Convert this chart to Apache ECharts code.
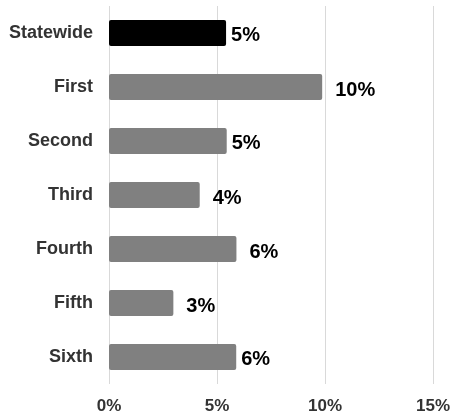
<!DOCTYPE html>
<html>
<head>
<meta charset="utf-8">
<script src="https://cdn.jsdelivr.net/npm/echarts@6/dist/echarts.min.js"></script>
<style>
  html, body { margin: 0; padding: 0; background: #fff; }
  #chart { width: 453px; height: 417px; }
</style>
</head>
<body>
<div id="chart"></div>
<script>
// regions, top to bottom
const regions = ["Statewide", "First", "Second", "Third", "Fourth", "Fifth", "Sixth"];
// share in percent
const shares = [5.42, 9.87, 5.45, 4.2, 5.9, 2.98, 5.89];
const xTicks = [0, 5, 10, 15];

// labels that sit a bit further out / lower in the original
const looseLabels = [1, 3, 4, 5];

const chart = echarts.init(document.getElementById("chart"));
chart.setOption({
  animation: false,
  grid: { left: 109, right: 20, top: 6, bottom: 33 },
  xAxis: {
    type: "value",
    min: xTicks[0],
    max: xTicks[xTicks.length - 1],
    interval: 5,
    axisLine: { show: false },
    axisTick: { show: false },
    splitLine: { lineStyle: { color: "#d9d9d9", width: 1 } },
    axisLabel: {
      formatter: (v) => v + "%",
      color: "#333",
      fontWeight: "bold",
      fontSize: 17,
      fontFamily: "Liberation Sans",
      margin: 14
    }
  },
  yAxis: {
    type: "category",
    data: regions,
    inverse: true,
    axisLine: { show: false },
    axisTick: { show: false },
    axisLabel: {
      color: "#333",
      fontWeight: "bold",
      fontSize: 18,
      fontFamily: "Liberation Sans",
      margin: 16,
      padding: [3, 0, 0, 0]
    }
  },
  series: [{
    type: "bar",
    data: shares.map((v, i) => {
      const item = {
        value: v,
        itemStyle: { color: i === 0 ? "#000" : "#808080" }
      };
      if (looseLabels.includes(i)) {
        item.label = { distance: 13, offset: [0, 3] };
      }
      return item;
    }),
    barWidth: "48%",
    itemStyle: { borderRadius: 2 },
    label: {
      show: true,
      position: "right",
      distance: 5,
      offset: [0, 2],
      formatter: (p) => Math.round(p.value) + "%",
      color: "#000",
      fontWeight: "bold",
      fontSize: 20,
      fontFamily: "Liberation Sans"
    }
  }]
});
</script>
</body>
</html>
